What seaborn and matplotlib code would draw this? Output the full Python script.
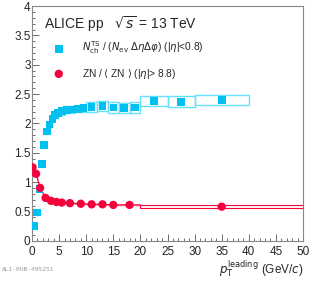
import numpy as np
import pandas as pd
import matplotlib
matplotlib.use('Agg')
import matplotlib.pyplot as plt
import seaborn as sns
from matplotlib.patches import Rectangle
from matplotlib.ticker import MultipleLocator

# -----------------------------
# Data
# -----------------------------
nch_pt = [0.4, 0.9, 1.35, 1.8, 2.25, 2.75, 3.25, 3.75, 4.25, 4.75,
          5.5, 6.5, 7.5, 8.5, 9.5, 11, 13, 15, 17, 19, 22.5, 27.5, 35]
nch_val = [0.25, 0.48, 0.88, 1.31, 1.63, 1.86, 1.98, 2.08, 2.14, 2.18,
           2.21, 2.23, 2.24, 2.25, 2.26, 2.28, 2.30, 2.27, 2.26, 2.27, 2.38, 2.37, 2.40]
nch_halfw = [0.25] * 10 + [0.5] * 5 + [1] * 5 + [2.5, 2.5, 5]
nch_sys = [0.04] * 10 + [0.06] * 5 + [0.09] * 8

zn_pt = [0.1, 0.75, 1.5, 2.5, 3.5, 4.5, 5.5, 7, 9, 11, 13, 15, 18, 35]
zn_val = [1.25, 1.14, 0.90, 0.73, 0.68, 0.66, 0.65, 0.64, 0.63, 0.62, 0.62, 0.61, 0.61, 0.58]
zn_sys_lo = [0.55]
zn_sys_hi = [0.61]

cyan = '#00c0f0'
red = '#f5003c'

df_nch = pd.DataFrame({'pt': nch_pt, 'val': nch_val})
df_zn = pd.DataFrame({'pt': zn_pt, 'val': zn_val})

sns.set_style('ticks')
plt.rcParams['font.family'] = ['Liberation Sans', 'DejaVu Sans']

fig = plt.figure(figsize=(3.22, 2.84), dpi=100)
ax = fig.add_axes([0.0994, 0.1525, 0.8416, 0.826])

# systematic boxes for Nch
for x, y, hw, s in zip(nch_pt, nch_val, nch_halfw, nch_sys):
    ax.add_patch(Rectangle((x - hw, y - s), 2 * hw, 2 * s, fill=False,
                           edgecolor='#66e0ff', lw=1.0, zorder=2))

# ZN band below 20 GeV and box above
band_x = zn_pt[:-1] + [20]
band_y = zn_val[:-1] + [zn_val[-2]]
ax.fill_between(band_x, np.array(band_y) - 0.018, np.array(band_y) + 0.018,
                color='#ffb0c0', lw=0, zorder=2)
ax.plot(band_x, band_y, color=red, lw=0.9, zorder=3)
ax.add_patch(Rectangle((20, zn_sys_lo[0]), 30, zn_sys_hi[0] - zn_sys_lo[0],
                       fill=False, edgecolor=red, lw=0.8, zorder=2))

sns.scatterplot(data=df_nch, x='pt', y='val', marker='s', s=30, color=cyan,
                edgecolor='none', ax=ax, zorder=4,
                label=r'$N_{\rm ch}^{\rm TS}$ / ($N_{\rm ev}$ $\Delta\eta\Delta\varphi$) (|$\eta$|<0.8)')
sns.scatterplot(data=df_zn, x='pt', y='val', marker='o', s=36, color=red,
                edgecolor='none', ax=ax, zorder=4,
                label=r'ZN / $\langle$ ZN $\rangle$ (|$\eta$|> 8.8)')

ax.set_xlim(0, 50)
ax.set_ylim(0, 4)
ax.xaxis.set_major_locator(MultipleLocator(5))
ax.xaxis.set_minor_locator(MultipleLocator(1))
ax.yaxis.set_major_locator(MultipleLocator(0.5))
ax.yaxis.set_minor_locator(MultipleLocator(0.1))
ax.tick_params(which='both', direction='in', labelsize=8.5, color='#555555')
ax.tick_params(which='major', length=5, width=0.6)
ax.tick_params(which='minor', length=2.5, width=0.6)
ax.tick_params(axis='x', pad=4)
ax.tick_params(axis='y', pad=1)
ax.set_yticks(np.arange(0, 4.01, 0.5))
ax.set_yticklabels(['0', '0.5', '1', '1.5', '2', '2.5', '3', '3.5', '4'])
for sp in ax.spines.values():
    sp.set_color('#888888')
    sp.set_linewidth(0.8)

ax.set_ylabel('')
ax.set_xlabel(r'$p_{\rm T}^{\rm leading}$ (GeV/$c$)', loc='right', fontsize=8.5, labelpad=0)

ax.text(0.045, 0.925, r'ALICE pp   $\sqrt{s}$ = 13 TeV', transform=ax.transAxes,
        fontsize=10, va='center', ha='left')

ax.legend(loc='center left', bbox_to_anchor=(0.065, 0.77), frameon=False,
          fontsize=7.3, handlelength=1.0, handletextpad=1.8, labelspacing=1.0,
          borderaxespad=0)

fig.text(0.006, 0.045, 'ALI-PUB-495251', fontsize=4.5, color='#999999',
         family='DejaVu Sans Mono')

fig.savefig('out.png', dpi=100)
